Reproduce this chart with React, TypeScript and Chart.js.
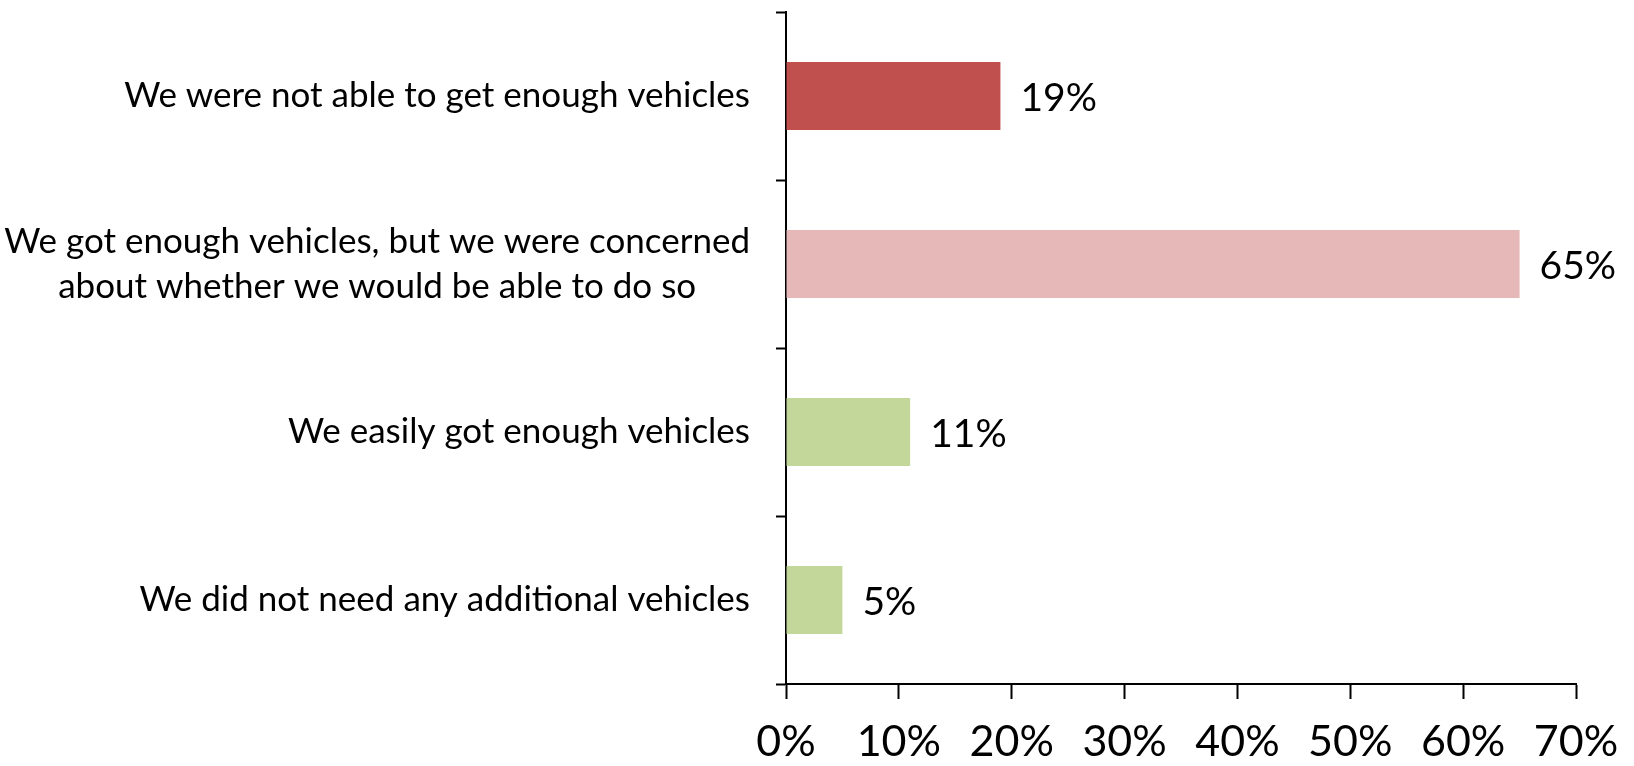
import React, { useEffect, useRef } from "react";
import { Chart, registerables } from "chart.js";

Chart.register(...registerables);

const categories: (string | string[])[] = [
  "We were not able to get enough vehicles",
  ["We got enough vehicles, but we were concerned", "about whether we would be able to do so"],
  "We easily got enough vehicles",
  "We did not need any additional vehicles",
];
const values = [19, 65, 11, 5];
const barColors = ["#C0504D", "#E6B8B7", "#C4D79B", "#C4D79B"];
const xTicks = [0, 10, 20, 30, 40, 50, 60, 70];

const FONT = "Lato, 'Open Sans', sans-serif";

const valueLabels = {
  id: "valueLabels",
  afterDatasetsDraw(chart: any) {
    const ctx = chart.ctx;
    const meta = chart.getDatasetMeta(0);
    ctx.save();
    ctx.font = `39px ${FONT}`;
    ctx.fillStyle = "#000";
    ctx.textAlign = "left";
    ctx.textBaseline = "middle";
    meta.data.forEach((el: any, i: number) => {
      ctx.fillText(values[i] + "%", el.x + 20, el.y + 2);
    });
    ctx.restore();
  },
};

// Category labels: block right-aligned to the axis, lines centred within the block
const categoryLabels = {
  id: "categoryLabels",
  afterDraw(chart: any) {
    const ctx = chart.ctx;
    const scale = chart.scales.y;
    const lineH = 45;
    ctx.save();
    ctx.font = `35px ${FONT}`;
    ctx.fillStyle = "#000";
    ctx.textAlign = "center";
    ctx.textBaseline = "middle";
    categories.forEach((lab, i) => {
      const lines = Array.isArray(lab) ? lab : [lab];
      const maxW = Math.max(...lines.map((l) => ctx.measureText(l).width));
      const right = scale.right - 36;
      const cx = right - maxW / 2;
      const cy = scale.getPixelForTick(i);
      lines.forEach((l, j) => {
        const y = cy + (j - (lines.length - 1) / 2) * lineH;
        ctx.fillText(l, cx, y);
      });
    });
    ctx.restore();
  },
};

export default function App() {
  const ref = useRef<HTMLCanvasElement>(null);
  useEffect(() => {
    const chart = new Chart(ref.current!, {
      type: "bar",
      data: {
        labels: categories,
        datasets: [
          {
            data: values,
            backgroundColor: barColors,
            borderWidth: 0,
            barPercentage: 0.405,
            categoryPercentage: 1,
          },
        ],
      },
      options: {
        indexAxis: "y",
        animation: false,
        responsive: false,
        maintainAspectRatio: false,
        layout: { padding: { top: 12, right: 58, left: 0, bottom: 0 } },
        plugins: { legend: { display: false }, tooltip: { enabled: false } },
        scales: {
          x: {
            min: 0,
            max: 70,
            afterBuildTicks: (s: any) => {
              s.ticks = xTicks.map((v) => ({ value: v }));
            },
            afterFit: (s: any) => {
              s.height = 82;
              s.paddingLeft = 0;
              s.paddingRight = 0;
            },
            grid: {
              drawOnChartArea: false,
              drawTicks: true,
              tickLength: 15,
              tickWidth: 2,
              color: "#000",
            },
            border: { color: "#000", width: 2 },
            ticks: {
              color: "#000",
              padding: 17,
              font: { family: FONT, size: 43 },
              callback: (v: any) => v + "%",
              maxRotation: 0,
            },
          },
          y: {
            afterFit: (s: any) => {
              s.width = 786;
              s.paddingTop = 0;
              s.paddingBottom = 0;
            },
            grid: {
              offset: true,
              drawOnChartArea: false,
              drawTicks: true,
              tickLength: 10,
              tickWidth: 2,
              color: "#000",
            },
            border: { color: "#000", width: 2 },
            ticks: {
              display: false,
            },
          },
        },
      },
      plugins: [valueLabels, categoryLabels],
    });
    return () => chart.destroy();
  }, []);
  return (
    <div style={{ position: "fixed", left: 0, top: 0, width: 1634, height: 766, background: "#fff" }}>
      <canvas ref={ref} width={1634} height={766} style={{ width: 1634, height: 766 }} />
    </div>
  );
}
